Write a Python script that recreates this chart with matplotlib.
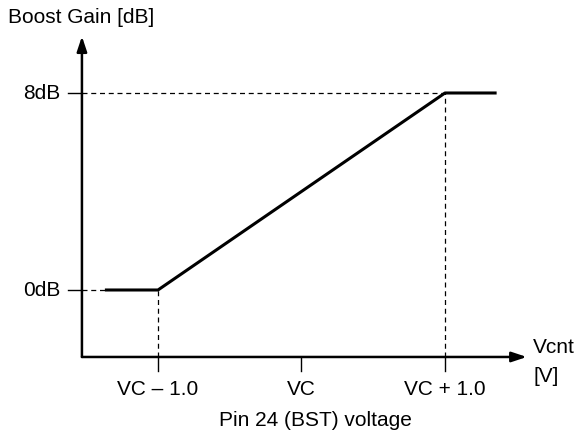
import matplotlib.pyplot as plt

plt.rcParams['font.family'] = ['Liberation Sans', 'DejaVu Sans']

# control voltage relative to VC [V] and boost gain [dB]
vcnt = [-1.37, -1.0, 1.0, 1.36]
gain = [0, 0, 8, 8]

xticks = [-1.0, 0.0, 1.0]
xtick_labels = ['VC \u2013 1.0', 'VC', 'VC + 1.0']
yticks = [0, 8]
ytick_labels = ['0dB', '8dB']

x_axis_start, x_axis_end = -1.53, 1.57
y_axis_start, y_axis_end = -2.72, 10.3

fig = plt.figure(figsize=(5.8, 4.35), dpi=100)
ax = fig.add_axes([0, 0, 1, 1])
ax.set_xlim(-2.101, 1.941)
ax.set_ylim(-5.848, 11.817)
ax.axis('off')

arrow = dict(arrowstyle='-|>,head_length=0.9,head_width=0.3', color='black',
             lw=1.8, shrinkA=0, shrinkB=0)
ax.annotate('', xy=(x_axis_end, y_axis_start), xytext=(x_axis_start, y_axis_start),
            arrowprops=arrow)
ax.annotate('', xy=(x_axis_start, y_axis_end), xytext=(x_axis_start, y_axis_start),
            arrowprops=arrow)

# guide lines
dash = dict(color='black', lw=0.9, dashes=(4, 3))
ax.plot([x_axis_start, vcnt[0]], [gain[0], gain[0]], **dash)
ax.plot([x_axis_start, vcnt[2]], [gain[2], gain[2]], **dash)
ax.plot([vcnt[1], vcnt[1]], [y_axis_start, gain[1]], **dash)
ax.plot([vcnt[2], vcnt[2]], [y_axis_start, gain[2]], **dash)

ax.plot(vcnt, gain, color='black', lw=2.2, solid_capstyle='butt')

# ticks
fs = 15
tick_len_x = 0.1
tick_len_y = 0.57
for x, lab in zip(xticks, xtick_labels):
    ax.plot([x, x], [y_axis_start, y_axis_start - tick_len_y], color='black', lw=1)
    ax.text(x, -4.02, lab, ha='center', va='center', fontsize=fs)
for y, lab in zip(yticks, ytick_labels):
    ax.plot([x_axis_start - tick_len_x, x_axis_start], [y, y], color='black', lw=1)
    ax.text(x_axis_start - 0.15, y, lab, ha='right', va='center', fontsize=fs)

ax.text(-2.045, 11.09, 'Boost Gain [dB]', ha='left', va='center', fontsize=fs)
ax.text(1.615, -2.31, 'Vcnt', ha='left', va='center', fontsize=fs)
ax.text(1.615, -3.49, '[V]', ha='left', va='center', fontsize=fs)
ax.text(0.1, -5.24, 'Pin 24 (BST) voltage', ha='center', va='center', fontsize=fs)

fig.savefig('out.png', dpi=100)
